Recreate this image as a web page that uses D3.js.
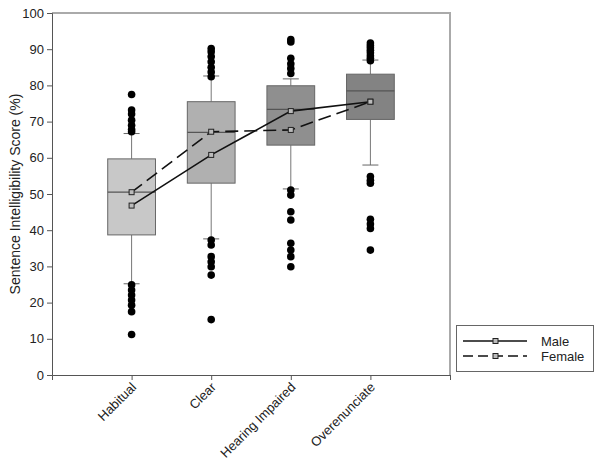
<!DOCTYPE html>
<html><head><meta charset="utf-8">
<script src="https://cdn.jsdelivr.net/npm/d3@7"></script>
<style>body{margin:0;background:#fff}svg{font-family:"Liberation Sans",Arial,sans-serif}</style>
</head><body><svg id="c" width="604" height="470"></svg>
<script>
const categories = ["Habitual","Clear","Hearing Impaired","Overenunciate"];
const boxQ1 = [38.7, 53.0, 63.5, 70.6];
const boxMedian = [50.5, 67.0, 73.4, 78.5];
const boxQ3 = [59.7, 75.5, 79.9, 83.1];
const whiskerLow = [25.2, 37.6, 51.4, 58.0];
const whiskerHigh = [66.7, 82.6, 81.8, 87.0];
const outliers = [
  [67.2,67.8,69.0,70.4,72.1,73.2,77.5, 24.9,23.5,22.1,20.7,19.3,17.5,11.2],
  [82.4,83.7,85.0,86.5,88.0,89.3,90.2, 37.3,35.9,32.7,31.3,29.9,27.6,15.3],
  [92.7,92.0,87.5,86.0,84.7,83.3, 51.1,49.7,45.1,42.8,36.4,34.5,32.7,29.9],
  [86.8,87.5,88.2,89.0,89.7,90.4,91.0,91.7, 54.8,53.8,53.0,43.0,41.7,40.5,34.5]
];
const maleMeans = [46.8, 60.8, 72.9, 75.5];
const femaleMeans = [50.5, 67.2, 67.7, 75.5];
const yTicks = [0,10,20,30,40,50,60,70,80,90,100];
const boxFills = ["#c8c8c8","#b0b0b0","#8f8f8f","#838383"];

const svg = d3.select("#c");
const L = 52, R = 450, T = 13, B = 375;
const y = d3.scaleLinear().domain([0,100]).range([B,T]);
const x = d3.scaleLinear().domain([0,5]).range([L,R]);
const bw = (x(1)-x(0))*0.6;
const FF = "Liberation Sans, Arial, sans-serif";

// frame (top, right)
svg.append("path").attr("d",`M${L},${T}H${R}V${B}`).attr("fill","none").attr("stroke","#aaa").attr("stroke-width",2);

// y axis
const ya = svg.append("g").attr("transform",`translate(${L},0)`)
  .call(d3.axisLeft(y).tickValues(yTicks).tickSize(5).tickPadding(3));
ya.select(".domain").attr("stroke","#555");
ya.selectAll(".tick line").attr("stroke","#555");
ya.selectAll("text").attr("font-size",13).attr("fill","#222").attr("font-family",FF);

// x axis
const xa = svg.append("g").attr("transform",`translate(0,${B})`)
  .call(d3.axisBottom(x).tickValues([1,2,3,4,5]).tickSize(5).tickFormat((d)=> d<=4 ? categories[d-1] : ""));
xa.select(".domain").attr("stroke","#555");
xa.selectAll(".tick line").attr("stroke","#555");
xa.selectAll("text").attr("font-size",13).attr("fill","#222")
  .attr("font-family",FF)
  .attr("text-anchor","end").attr("dy","0").attr("y",0)
  .attr("transform","translate(5,13) rotate(-45)");

// y label
svg.append("text").attr("transform",`translate(20,${(T+B)/2}) rotate(-90)`)
  .attr("text-anchor","middle").attr("font-size",14).attr("fill","#222")
  .text("Sentence Intelligibility Score (%)");

// boxes
categories.forEach((c,i)=>{
  const cx = x(i+1);
  const g = svg.append("g");
  g.append("line").attr("x1",cx).attr("x2",cx).attr("y1",y(whiskerLow[i])).attr("y2",y(boxQ1[i])).attr("stroke","#777");
  g.append("line").attr("x1",cx).attr("x2",cx).attr("y1",y(whiskerHigh[i])).attr("y2",y(boxQ3[i])).attr("stroke","#777");
  [whiskerLow[i],whiskerHigh[i]].forEach(v=>g.append("line").attr("x1",cx-8).attr("x2",cx+8).attr("y1",y(v)).attr("y2",y(v)).attr("stroke","#666"));
  g.append("rect").attr("x",cx-bw/2).attr("width",bw).attr("y",y(boxQ3[i])).attr("height",y(boxQ1[i])-y(boxQ3[i]))
    .attr("fill",boxFills[i]).attr("stroke","#666");
  g.append("line").attr("x1",cx-bw/2).attr("x2",cx+bw/2).attr("y1",y(boxMedian[i])).attr("y2",y(boxMedian[i])).attr("stroke","#555").attr("stroke-width",1.2);
  g.selectAll("circle").data(outliers[i]).join("circle").attr("cx",cx).attr("cy",d=>y(d)).attr("r",3.8).attr("fill","#000");
});

// mean lines
const line = d3.line().x((d,i)=>x(i+1)).y(d=>y(d));
svg.append("path").attr("d",line(maleMeans)).attr("fill","none").attr("stroke","#111").attr("stroke-width",1.6);
svg.append("path").attr("d",line(femaleMeans)).attr("fill","none").attr("stroke","#111").attr("stroke-width",1.6).attr("stroke-dasharray","13,6");
[maleMeans,femaleMeans].forEach(arr=>{
  svg.selectAll(null).data(arr).join("rect").attr("x",(d,i)=>x(i+1)-2.5).attr("y",d=>y(d)-2.5).attr("width",5).attr("height",5)
    .attr("fill","#bbb").attr("stroke","#222").attr("stroke-width",1);
});

// legend
const lg = svg.append("g");
lg.append("rect").attr("x",456.5).attr("y",325.5).attr("width",137).attr("height",46).attr("fill","#fff").attr("stroke","#666");
const series = [["Male",null],["Female","10,5"]];
series.forEach((s,k)=>{
  const yy = 341 + k*15;
  lg.append("line").attr("x1",463).attr("x2",527).attr("y1",yy).attr("y2",yy).attr("stroke","#111").attr("stroke-width",1.4)
    .attr("stroke-dasharray",s[1]);
  lg.append("rect").attr("x",493).attr("y",yy-2.5).attr("width",5).attr("height",5).attr("fill","#bbb").attr("stroke","#222");
  lg.append("text").attr("x",541).attr("y",yy+5).attr("font-size",13).attr("fill","#222").text(s[0]);
});
</script></body></html>
